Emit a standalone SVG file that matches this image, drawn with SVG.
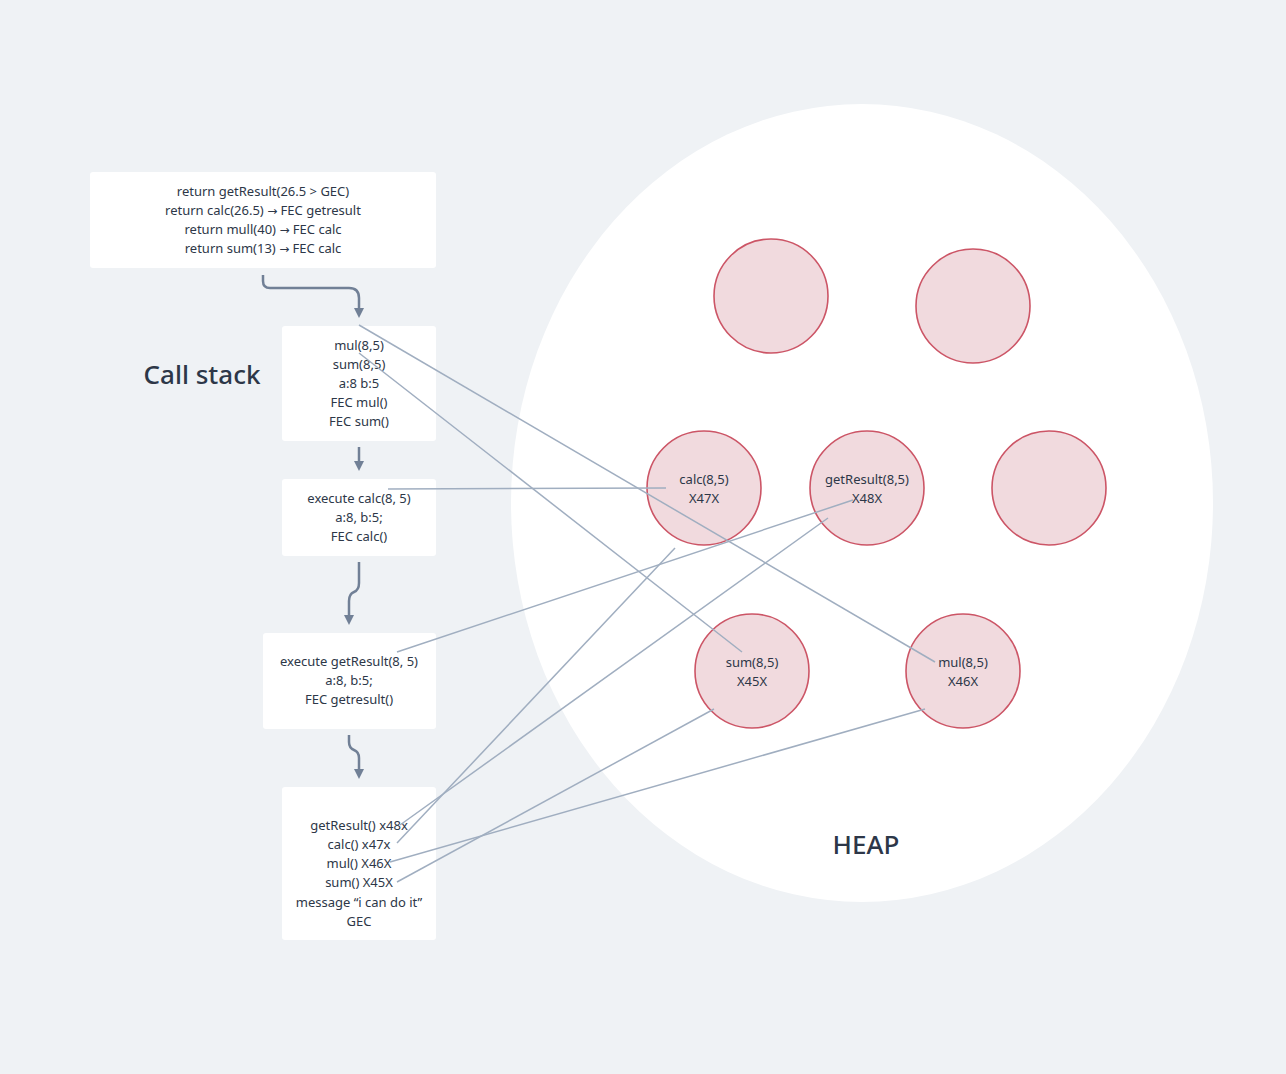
<svg xmlns="http://www.w3.org/2000/svg" width="1286" height="1074" viewBox="0 0 1286 1074">
<style>
.box{fill:#ffffff;}
.t{font-family:"Noto Sans","Liberation Sans",sans-serif;font-size:13px;fill:#2d3748;text-anchor:middle;}
.ar{font-family:"DejaVu Sans",sans-serif;font-size:12px;}
.big{font-family:"Noto Sans","Liberation Sans",sans-serif;font-size:26px;font-weight:500;fill:#2d3748;text-anchor:middle;}
.circ{fill:#f1dade;stroke:#cc5566;stroke-width:1.6;}
.flow{fill:none;stroke:#718096;stroke-width:2.5;}
.link{fill:none;stroke:#a0aec0;stroke-width:1.5;}
</style>
<defs>
<marker id="ah" markerWidth="10" markerHeight="10" refX="6" refY="5" orient="auto" markerUnits="userSpaceOnUse" viewBox="0 0 10 10">
<path d="M0,0 L10,5 L0,10 Z" fill="#718096"/>
</marker>
</defs>
<rect width="1286" height="1074" fill="#eff2f5"/>
<ellipse id="heap" cx="862" cy="503" rx="351" ry="399" fill="#ffffff"/>
<text class="big" x="866" y="854">HEAP</text>
<text class="big" x="202" y="384">Call stack</text>

<g id="box1">
<rect class="box" x="90" y="172" width="346" height="96" rx="3"/>
<text class="t" x="263" y="196">return getResult(26.5 &gt; GEC)</text>
<text class="t" x="263" y="215">return calc(26.5) <tspan class="ar">→</tspan> FEC getresult</text>
<text class="t" x="263" y="234">return mull(40) <tspan class="ar">→</tspan> FEC calc</text>
<text class="t" x="263" y="253">return sum(13) <tspan class="ar">→</tspan> FEC calc</text>
</g>
<g id="box2">
<rect class="box" x="282" y="326" width="154" height="115" rx="3"/>
<text class="t" x="359" y="350">mul(8,5)</text>
<text class="t" x="359" y="369">sum(8,5)</text>
<text class="t" x="359" y="388">a:8 b:5</text>
<text class="t" x="359" y="407">FEC mul()</text>
<text class="t" x="359" y="426">FEC sum()</text>
</g>
<g id="box3">
<rect class="box" x="282" y="479" width="154" height="77" rx="3"/>
<text class="t" x="359" y="503">execute calc(8, 5)</text>
<text class="t" x="359" y="522">a:8, b:5;</text>
<text class="t" x="359" y="541">FEC calc()</text>
</g>
<g id="box4">
<rect class="box" x="263" y="633" width="173" height="96" rx="3"/>
<text class="t" x="349" y="666">execute getResult(8, 5)</text>
<text class="t" x="349" y="685">a:8, b:5;</text>
<text class="t" x="349" y="704">FEC getresult()</text>
</g>
<g id="box5">
<rect class="box" x="282" y="787" width="154" height="153" rx="3"/>
<text class="t" x="359" y="830">getResult() x48x</text>
<text class="t" x="359" y="849">calc() x47x</text>
<text class="t" x="359" y="868">mul() X46X</text>
<text class="t" x="359" y="887">sum() X45X</text>
<text class="t" x="359" y="907">message “i can do it”</text>
<text class="t" x="359" y="926">GEC</text>
</g>

<g id="c1"><circle class="circ" cx="771" cy="296" r="57"/></g>
<g id="c2"><circle class="circ" cx="973" cy="306" r="57"/></g>
<g id="calc"><circle class="circ" cx="704" cy="488" r="57"/>
<text class="t" x="704" y="484">calc(8,5)</text><text class="t" x="704" y="503">X47X</text></g>
<g id="getResult"><circle class="circ" cx="867" cy="488" r="57"/>
<text class="t" x="867" y="484">getResult(8,5)</text><text class="t" x="867" y="503">X48X</text></g>
<g id="c5"><circle class="circ" cx="1049" cy="488" r="57"/></g>
<g id="sum"><circle class="circ" cx="752" cy="671" r="57"/>
<text class="t" x="752" y="667">sum(8,5)</text><text class="t" x="752" y="686">X45X</text></g>
<g id="mul"><circle class="circ" cx="963" cy="671" r="57"/>
<text class="t" x="963" y="667">mul(8,5)</text><text class="t" x="963" y="686">X46X</text></g>

<g id="connectors">
<path class="flow" marker-end="url(#ah)" d="M263,275 V281 Q263,288 270,288 H349 Q359,288 359,298 V314"/>
<path class="flow" marker-end="url(#ah)" d="M359,447 V467"/>
<path class="flow" marker-end="url(#ah)" d="M359,562 V583 Q359,590 354,592 Q349,594 349,601 V621"/>
<path class="flow" marker-end="url(#ah)" d="M349,735 V742 Q349,748 354,750 Q359,752 359,758 V775"/>
<line class="link" x1="359" y1="325" x2="935" y2="662"/>
<line class="link" x1="359" y1="353" x2="742" y2="652"/>
<line class="link" x1="388" y1="489" x2="666" y2="488"/>
<line class="link" x1="397" y1="652" x2="853" y2="500"/>
<line class="link" x1="400" y1="825" x2="828" y2="518"/>
<line class="link" x1="397" y1="843" x2="675" y2="548"/>
<line class="link" x1="390" y1="862" x2="925" y2="709"/>
<line class="link" x1="397" y1="882" x2="714" y2="709"/>
</g>
</svg>
